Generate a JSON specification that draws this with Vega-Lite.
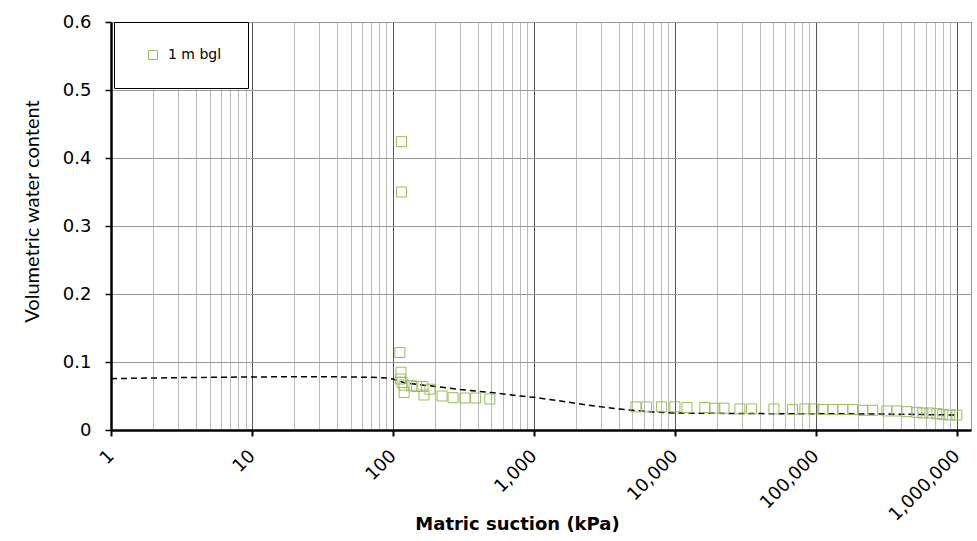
{
  "$schema": "https://vega.github.io/schema/vega-lite/v6.json",
  "width": 860,
  "height": 408,
  "autosize": "none",
  "padding": {"left": 111, "top": 22, "right": 6, "bottom": 111},
  "background": "white",
  "config": {"font": "DejaVu Sans", "view": {"stroke": "#999", "strokeWidth": 1}},
  "datasets": {
    "curve": [
      {"suction": 1, "theta": 0.0755},
      {"suction": 3, "theta": 0.077},
      {"suction": 10, "theta": 0.078},
      {"suction": 30, "theta": 0.0785},
      {"suction": 70, "theta": 0.0775},
      {"suction": 90, "theta": 0.0765},
      {"suction": 100, "theta": 0.075},
      {"suction": 120, "theta": 0.0695},
      {"suction": 150, "theta": 0.067},
      {"suction": 200, "theta": 0.064},
      {"suction": 300, "theta": 0.0595},
      {"suction": 500, "theta": 0.055},
      {"suction": 800, "theta": 0.05},
      {"suction": 1000, "theta": 0.048},
      {"suction": 1500, "theta": 0.043},
      {"suction": 2000, "theta": 0.039},
      {"suction": 3000, "theta": 0.034},
      {"suction": 4000, "theta": 0.031},
      {"suction": 5000, "theta": 0.029},
      {"suction": 7000, "theta": 0.0265},
      {"suction": 10000, "theta": 0.025},
      {"suction": 20000, "theta": 0.0245},
      {"suction": 50000, "theta": 0.024},
      {"suction": 100000, "theta": 0.024},
      {"suction": 300000, "theta": 0.0235},
      {"suction": 1000000, "theta": 0.022}
    ],
    "measured": [
      {"series": "1 m bgl", "suction": 115, "theta": 0.424},
      {"series": "1 m bgl", "suction": 115, "theta": 0.35},
      {"series": "1 m bgl", "suction": 112, "theta": 0.114},
      {"series": "1 m bgl", "suction": 114, "theta": 0.085},
      {"series": "1 m bgl", "suction": 113, "theta": 0.075},
      {"series": "1 m bgl", "suction": 116, "theta": 0.07},
      {"series": "1 m bgl", "suction": 120, "theta": 0.066},
      {"series": "1 m bgl", "suction": 120, "theta": 0.055},
      {"series": "1 m bgl", "suction": 136, "theta": 0.065},
      {"series": "1 m bgl", "suction": 147, "theta": 0.064},
      {"series": "1 m bgl", "suction": 163, "theta": 0.064},
      {"series": "1 m bgl", "suction": 166, "theta": 0.0515},
      {"series": "1 m bgl", "suction": 183, "theta": 0.06},
      {"series": "1 m bgl", "suction": 223, "theta": 0.05},
      {"series": "1 m bgl", "suction": 267, "theta": 0.0475},
      {"series": "1 m bgl", "suction": 324, "theta": 0.047},
      {"series": "1 m bgl", "suction": 386, "theta": 0.047},
      {"series": "1 m bgl", "suction": 487, "theta": 0.0456},
      {"series": "1 m bgl", "suction": 5290, "theta": 0.034},
      {"series": "1 m bgl", "suction": 6300, "theta": 0.034},
      {"series": "1 m bgl", "suction": 8050, "theta": 0.034},
      {"series": "1 m bgl", "suction": 10000, "theta": 0.034},
      {"series": "1 m bgl", "suction": 12170, "theta": 0.033},
      {"series": "1 m bgl", "suction": 16300, "theta": 0.033},
      {"series": "1 m bgl", "suction": 19200, "theta": 0.032},
      {"series": "1 m bgl", "suction": 22300, "theta": 0.032},
      {"series": "1 m bgl", "suction": 28900, "theta": 0.031},
      {"series": "1 m bgl", "suction": 35000, "theta": 0.031},
      {"series": "1 m bgl", "suction": 50400, "theta": 0.031},
      {"series": "1 m bgl", "suction": 68300, "theta": 0.030},
      {"series": "1 m bgl", "suction": 83600, "theta": 0.031},
      {"series": "1 m bgl", "suction": 96800, "theta": 0.031},
      {"series": "1 m bgl", "suction": 112000, "theta": 0.030},
      {"series": "1 m bgl", "suction": 132000, "theta": 0.030},
      {"series": "1 m bgl", "suction": 155000, "theta": 0.030},
      {"series": "1 m bgl", "suction": 183000, "theta": 0.030},
      {"series": "1 m bgl", "suction": 215000, "theta": 0.029},
      {"series": "1 m bgl", "suction": 253000, "theta": 0.029},
      {"series": "1 m bgl", "suction": 319000, "theta": 0.028},
      {"series": "1 m bgl", "suction": 375000, "theta": 0.028},
      {"series": "1 m bgl", "suction": 442000, "theta": 0.027},
      {"series": "1 m bgl", "suction": 520000, "theta": 0.026},
      {"series": "1 m bgl", "suction": 574000, "theta": 0.025},
      {"series": "1 m bgl", "suction": 644000, "theta": 0.025},
      {"series": "1 m bgl", "suction": 721000, "theta": 0.024},
      {"series": "1 m bgl", "suction": 795000, "theta": 0.023},
      {"series": "1 m bgl", "suction": 891000, "theta": 0.022},
      {"series": "1 m bgl", "suction": 1000000, "theta": 0.022}
    ]
  },
  "encoding": {
    "x": {
      "field": "suction",
      "type": "quantitative",
      "scale": {"type": "log", "domain": [1, 1260000], "nice": false},
      "axis": {
        "title": "Matric suction (kPa)",
        "titleFont": "DejaVu Sans",
        "titleFontSize": 18,
        "titleFontWeight": "bold",
        "titleColor": "black",
        "titleX": 406,
        "titleY": 99,
        "titleAlign": "center",
        "titleBaseline": "alphabetic",
        "values": [1,2,3,4,5,6,7,8,9,10,20,30,40,50,60,70,80,90,100,200,300,400,500,600,700,800,900,1000,2000,3000,4000,5000,6000,7000,8000,9000,10000,20000,30000,40000,50000,60000,70000,80000,90000,100000,200000,300000,400000,500000,600000,700000,800000,900000,1000000],
        "grid": true,
        "gridColor": {"condition": {"test": "abs(log(datum.value)/LN10 - round(log(datum.value)/LN10)) < 1e-6", "value": "#555"}, "value": "#bbb"},
        "gridWidth": 1,
        "tickOpacity": {"condition": {"test": "abs(log(datum.value)/LN10 - round(log(datum.value)/LN10)) < 1e-6", "value": 1}, "value": 0},
        "tickColor": "black",
        "tickWidth": 2,
        "tickSize": 6,
        "labelExpr": "abs(log(datum.value)/LN10 - round(log(datum.value)/LN10)) < 1e-6 ? format(datum.value, ',') : ''",
        "labelAngle": -45,
        "labelAlign": "right",
        "labelBaseline": "middle",
        "labelPadding": 17,
        "labelFontSize": 18,
        "labelColor": "black",
        "labelOverlap": false,
        "labelFlush": false,
        "domainColor": "black",
        "domainWidth": 2.5
      }
    },
    "y": {
      "field": "theta",
      "type": "quantitative",
      "scale": {"domain": [0, 0.6], "nice": false},
      "axis": {
        "title": "Volumetric water content",
        "titleFont": "Lato",
        "titleFontSize": 20,
        "titleFontWeight": "normal",
        "titleColor": "black",
        "titlePadding": 20,
        "titleY": 189,
        "titleAlign": "center",
        "values": [0, 0.1, 0.2, 0.3, 0.4, 0.5, 0.6],
        "labelExpr": "datum.value == 0 ? '0' : format(datum.value, '.1f')",
        "labelFontSize": 18,
        "labelColor": "black",
        "labelPadding": 14,
        "gridColor": "#999",
        "gridWidth": 1,
        "tickColor": "black",
        "tickWidth": 1.5,
        "tickSize": 6,
        "domainColor": "black",
        "domainWidth": 2.5
      }
    }
  },
  "layer": [
    {
      "data": {"name": "curve"},
      "mark": {"type": "line", "color": "black", "strokeDash": [6, 4], "strokeWidth": 1.5}
    },
    {
      "data": {"name": "measured"},
      "mark": {"type": "point", "shape": "square", "filled": false, "size": 100, "strokeWidth": 1, "opacity": 1},
      "encoding": {
        "color": {
          "field": "series",
          "type": "nominal",
          "scale": {"range": ["#9BBB59"]},
          "legend": {
            "title": null,
            "orient": "none",
            "legendX": 3,
            "legendY": 0,
            "padding": 26,
            "strokeColor": "black",
            "fillColor": "white",
            "symbolSize": 81,
            "symbolStrokeWidth": 1,
            "symbolOffset": 6,
            "labelFont": "DejaVu Sans",
            "labelFontSize": 14,
            "labelColor": "black",
            "labelOffset": 8
          }
        }
      }
    }
  ]
}
